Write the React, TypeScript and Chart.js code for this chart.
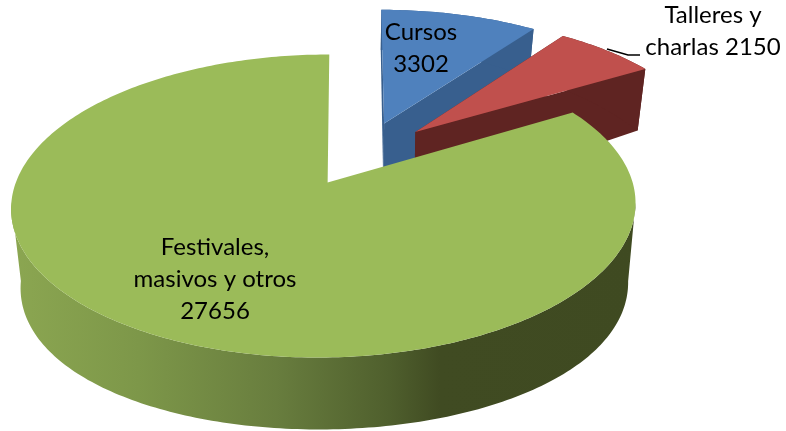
import React, { useEffect, useRef } from "react";
import { Chart, registerables } from "chart.js";

Chart.register(...registerables);

const categories = ["Cursos", "Talleres y charlas", "Festivales, masivos y otros"];
const values = [3302, 2150, 27656];
const faceColors = ["#4f81bd", "#c0504d", "#9bbb59"];
const wallColors = ["#385f8e", "#5f2422", "#5c6e34"];
const labelLines = [["Cursos", "3302"], ["Talleres y", "charlas 2150"], ["Festivales,", "masivos y otros", "27656"]];
const labelPos = [[421, 32], [713, 15], [215, 247]];

const EXPLODE_U = 0.2476;
const EXPLODE_V = 0.234;
const APEX_NUDGE = [0, 0, 0.011];
const K = 0.15;
const X0 = 362;
const Y0 = 153.4;
const A = 299;
const B = 139;
const SHRINK = 0.027;

function depthAt(v: number) {
  return 72 + 7.78 * (v + 1.2) - 13.76 * (v + 1.2) * (v + 0.3);
}

function project(u: number, v: number, z: number) {
  const s = 1 / (1 + K * v);
  return [X0 + A * u * s * (1 - SHRINK * z), Y0 - B * v * s + depthAt(v) * z];
}

const pie3d = {
  id: "pie3d",
  beforeDatasetsDraw(chart: any) {
    const ctx = chart.ctx as CanvasRenderingContext2D;
    const arcs = chart.getDatasetMeta(0).data;

    const outline = (i: number) => {
      const a = arcs[i];
      const t0 = a.startAngle + Math.PI / 2;
      const t1 = a.endAngle + Math.PI / 2;
      const mid = (t0 + t1) / 2;
      const ou = EXPLODE_U * Math.sin(mid);
      const ov = EXPLODE_V * Math.cos(mid);
      const pts: number[][] = [];
      const n = Math.max(12, Math.ceil((t1 - t0) * 60));
      for (let k = 0; k <= n; k++) {
        const t = t0 + ((t1 - t0) * k) / n;
        pts.push([ou + Math.sin(t), ov + Math.cos(t)]);
      }
      return { pts, apex: [ou + APEX_NUDGE[i], ov] };
    };

    const poly = (list: number[][]) => {
      ctx.beginPath();
      list.forEach((p, k) => (k ? ctx.lineTo(p[0], p[1]) : ctx.moveTo(p[0], p[1])));
      ctx.closePath();
    };

    const wallFill = (i: number) => {
      if (i !== 2) return wallColors[i];
      const g = ctx.createLinearGradient(14, 0, 640, 0);
      g.addColorStop(0, "#8ba651");
      g.addColorStop(0.2, "#7d9749");
      g.addColorStop(0.42, "#687d3e");
      g.addColorStop(0.6, "#4f5f2d");
      g.addColorStop(0.68, "#404b22");
      g.addColorStop(1, "#3f4a21");
      return g;
    };

    [0, 1, 2].forEach((i) => {
      const { pts, apex } = outline(i);
      ctx.fillStyle = wallFill(i);
      if (i < 2) {
        [pts[0], pts[pts.length - 1]].forEach((p) => {
          poly([
            project(apex[0], apex[1], 0),
            project(p[0], p[1], 0),
            project(p[0], p[1], 1),
            project(apex[0], apex[1], 1),
          ]);
          ctx.fill();
        });
      }
      const rimPts = i === 2 ? pts.filter((p) => p[1] - apex[1] <= -0.12) : pts;
      const rim = rimPts.map((p) => project(p[0], p[1], 0)).concat(
        rimPts.slice().reverse().map((p) => project(p[0], p[1], 1))
      );
      poly(rim);
      ctx.fill();
      poly([project(apex[0], apex[1], 0)].concat(pts.map((p) => project(p[0], p[1], 0))));
      ctx.fillStyle = faceColors[i];
      ctx.fill();
    });

    ctx.strokeStyle = "#000000";
    ctx.lineWidth = 1.6;
    ctx.beginPath();
    ctx.moveTo(607, 49);
    ctx.lineTo(628, 55);
    ctx.lineTo(640, 55);
    ctx.stroke();

    ctx.fillStyle = "#000000";
    ctx.font = '24px Lato, "Open Sans", sans-serif';
    ctx.textAlign = "center";
    ctx.textBaseline = "middle";
    labelLines.forEach((lines, i) => {
      lines.forEach((line, k) => {
        ctx.fillText(line, labelPos[i][0], labelPos[i][1] + k * 32);
      });
    });
    return false;
  },
};

export default function App() {
  const ref = useRef<HTMLCanvasElement>(null);
  useEffect(() => {
    document.body.style.margin = "0";
    const chart = new Chart(ref.current as HTMLCanvasElement, {
      type: "pie",
      data: {
        labels: categories,
        datasets: [{ data: values, backgroundColor: faceColors, borderWidth: 0 }],
      },
      options: {
        responsive: false,
        animation: false,
        plugins: { legend: { display: false }, tooltip: { enabled: false } },
      },
      plugins: [pie3d],
    } as any);
    return () => chart.destroy();
  }, []);
  return (
    <div style={{ width: 786, height: 431, background: "#fff" }}>
      <canvas ref={ref} width={786} height={431} style={{ display: "block" }} />
    </div>
  );
}
